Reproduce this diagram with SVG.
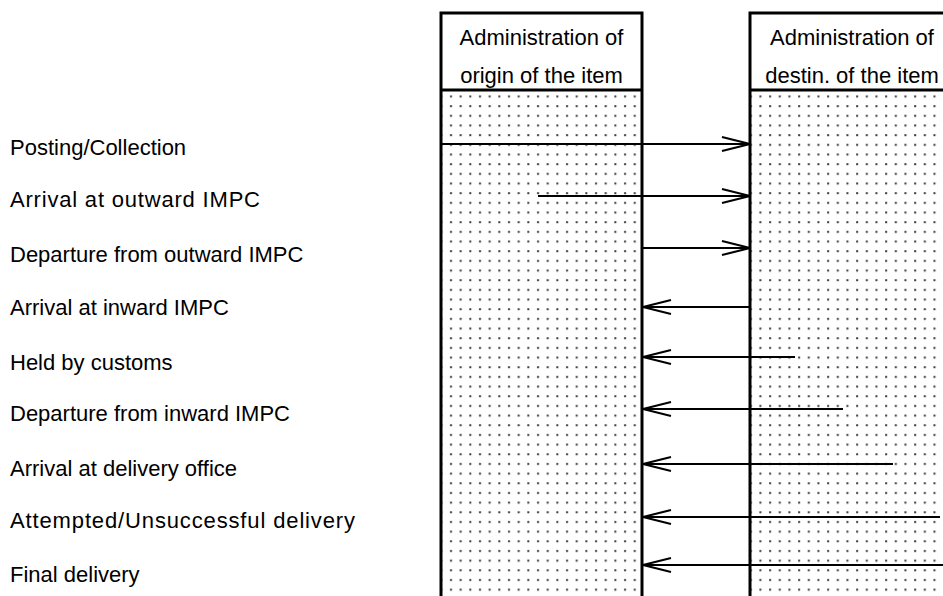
<svg xmlns="http://www.w3.org/2000/svg" width="943" height="596" viewBox="0 0 943 596">
<style>
.lbl{font-family:"Liberation Sans",Arial,sans-serif;font-size:22px;fill:#000}
.hdr{font-family:"Liberation Sans",Arial,sans-serif;font-size:22px;fill:#000;text-anchor:middle}
.border{fill:none;stroke:#000;stroke-width:3}
.arr{fill:none;stroke:#000;stroke-width:2}
</style>
<defs>
<pattern id="dots" x="446" y="91.5" width="9.67" height="9.67" patternUnits="userSpaceOnUse">
<rect x="4" y="4" width="2" height="2" fill="#3a3a3a"/>
</pattern>
<marker id="ah" viewBox="0 0 30 16" refX="29" refY="8" markerWidth="30" markerHeight="16" markerUnits="userSpaceOnUse" orient="auto">
<path d="M1,1 L29,8 L1,15" fill="none" stroke="#000" stroke-width="2"/>
</marker>
</defs>
<rect width="943" height="596" fill="#fff"/>
<g id="origin">
<rect x="441" y="90" width="201" height="510" fill="url(#dots)"/>
<rect x="441" y="13" width="201" height="600" class="border"/>
<line x1="441" y1="90" x2="642" y2="90" class="border"/>
<text class="hdr" x="541.5" y="45">Administration of</text>
<text class="hdr" x="541.5" y="83">origin of the item</text>
</g>
<g id="destination">
<rect x="750" y="90" width="201" height="510" fill="url(#dots)"/>
<rect x="750" y="13" width="201" height="600" class="border"/>
<line x1="750" y1="90" x2="951" y2="90" class="border"/>
<text class="hdr" x="852" y="45">Administration of</text>
<text class="hdr" x="852" y="83">destin. of the item</text>
</g>
<g id="labels">
<text class="lbl" x="10" y="155">Posting/Collection</text>
<text class="lbl" x="10" y="207" textLength="250" lengthAdjust="spacing">Arrival at outward IMPC</text>
<text class="lbl" x="10" y="262">Departure from outward IMPC</text>
<text class="lbl" x="10" y="315">Arrival at inward IMPC</text>
<text class="lbl" x="10" y="370">Held by customs</text>
<text class="lbl" x="10" y="421">Departure from inward IMPC</text>
<text class="lbl" x="10" y="476">Arrival at delivery office</text>
<text class="lbl" x="10" y="528" textLength="345" lengthAdjust="spacing">Attempted/Unsuccessful delivery</text>
<text class="lbl" x="10" y="582">Final delivery</text>
</g>
<g id="connectors">
<line class="arr" x1="441" y1="144" x2="750" y2="144" marker-end="url(#ah)"/>
<line class="arr" x1="538" y1="196" x2="750" y2="196" marker-end="url(#ah)"/>
<line class="arr" x1="642" y1="248" x2="750" y2="248" marker-end="url(#ah)"/>
<line class="arr" x1="750" y1="307" x2="643" y2="307" marker-end="url(#ah)"/>
<line class="arr" x1="795" y1="357" x2="643" y2="357" marker-end="url(#ah)"/>
<line class="arr" x1="843" y1="409" x2="643" y2="409" marker-end="url(#ah)"/>
<line class="arr" x1="893" y1="464" x2="643" y2="464" marker-end="url(#ah)"/>
<line class="arr" x1="940" y1="517" x2="643" y2="517" marker-end="url(#ah)"/>
<line class="arr" x1="943" y1="565" x2="643" y2="565" marker-end="url(#ah)"/>
</g>
</svg>
